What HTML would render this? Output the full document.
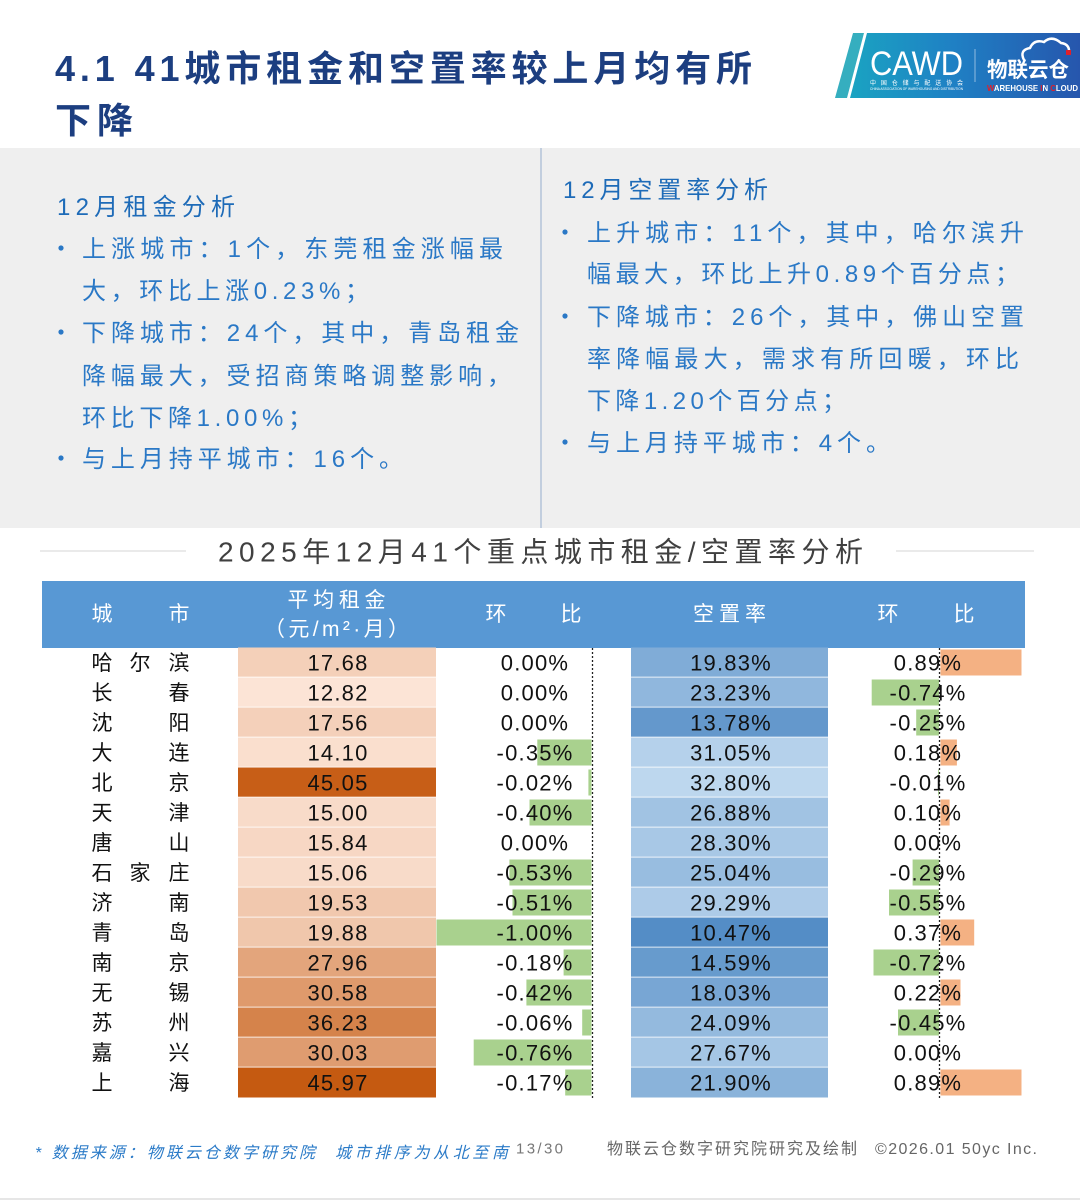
<!DOCTYPE html>
<html><head><meta charset="utf-8">
<style>
html,body{margin:0;padding:0;background:#fff;}
svg{display:block;font-family:"Liberation Sans","Noto Sans CJK SC",sans-serif;}
</style></head><body>
<svg width="1080" height="1200" viewBox="0 0 1080 1200" xmlns="http://www.w3.org/2000/svg">
<defs>
<linearGradient id="lg" x1="0" x2="1" y1="0" y2="0">
<stop offset="0" stop-color="#1aa3c2"/>
<stop offset="0.45" stop-color="#1f80c4"/>
<stop offset="1" stop-color="#2656ad"/>
</linearGradient>
</defs>
<rect x="0" y="0" width="1080" height="1200" fill="#fff"/>

<!-- Title -->
<text x="55" y="81" font-size="36" font-weight="bold" fill="#1c3e80" textLength="697" lengthAdjust="spacing">4.1 41城市租金和空置率较上月均有所</text>
<text x="55" y="133" font-size="36" font-weight="bold" fill="#1c3e80" textLength="78" lengthAdjust="spacing">下降</text>

<!-- Logo -->
<polygon points="853,33 864,33 847,98 835,98" fill="#35aebf"/>
<polygon points="867,33 1080,33 1080,98 850,98" fill="url(#lg)"/>
<text x="870" y="75" font-size="34" fill="#fff" textLength="93" lengthAdjust="spacingAndGlyphs">CAWD</text>
<text x="870" y="85" font-size="6" fill="#fff" textLength="93" lengthAdjust="spacing">中国仓储与配送协会</text>
<text x="870" y="90" font-size="3.5" fill="#fff" textLength="93" lengthAdjust="spacingAndGlyphs">CHINA ASSOCIATION OF WAREHOUSING AND DISTRIBUTION</text>
<line x1="975" y1="49" x2="975" y2="82" stroke="#fff" stroke-opacity="0.5" stroke-width="1"/>
<path d="M1024,60 q-5,-10 6,-12 q4,-9 14,-6 q8,-7 17,1 q9,1 8,10" fill="none" stroke="#fff" stroke-width="2.5"/>
<rect x="1066" y="50" width="5" height="5" fill="#e0202a"/>
<text x="987" y="77" font-size="21" font-weight="bold" fill="#fff" textLength="82" lengthAdjust="spacingAndGlyphs">物联云仓</text>
<text x="987" y="91" font-size="8.5" font-weight="bold" fill="#fff" textLength="91" lengthAdjust="spacingAndGlyphs"><tspan fill="#e0202a">W</tspan>AREHOUSE <tspan fill="#e0202a">I</tspan>N <tspan fill="#e0202a">C</tspan>LOUD</text>

<!-- Gray panel -->
<rect x="0" y="148" width="1080" height="380" fill="#efefef"/>
<line x1="541" y1="148" x2="541" y2="528" stroke="#b4c3d8" stroke-width="1.5"/>

<!-- Left panel -->
<text x="57" y="215" font-size="24" fill="#1e6bb8" textLength="178" lengthAdjust="spacing">12月租金分析</text>
<g font-size="24" fill="#2a78c6">
<circle cx="61" cy="248" r="2.6"/>
<text x="82" y="257" textLength="421" lengthAdjust="spacing">上涨城市：1个，东莞租金涨幅最</text>
<text x="82" y="299" textLength="287" lengthAdjust="spacing">大，环比上涨0.23%；</text>
<circle cx="61" cy="332" r="2.6"/>
<text x="82" y="341" textLength="437" lengthAdjust="spacing">下降城市：24个，其中，青岛租金</text>
<text x="82" y="384" textLength="429" lengthAdjust="spacing">降幅最大，受招商策略调整影响，</text>
<text x="82" y="426" textLength="230" lengthAdjust="spacing">环比下降1.00%；</text>
<circle cx="61" cy="458" r="2.6"/>
<text x="82" y="467" textLength="321" lengthAdjust="spacing">与上月持平城市：16个。</text>
</g>

<!-- Right panel -->
<text x="563" y="198" font-size="24" fill="#1e6bb8" textLength="205" lengthAdjust="spacing">12月空置率分析</text>
<g font-size="24" fill="#2a78c6">
<circle cx="565" cy="232" r="2.6"/>
<text x="587" y="241" textLength="437" lengthAdjust="spacing">上升城市：11个，其中，哈尔滨升</text>
<text x="587" y="282" textLength="432" lengthAdjust="spacing">幅最大，环比上升0.89个百分点；</text>
<circle cx="565" cy="316" r="2.6"/>
<text x="587" y="325" textLength="437" lengthAdjust="spacing">下降城市：26个，其中，佛山空置</text>
<text x="587" y="367" textLength="432" lengthAdjust="spacing">率降幅最大，需求有所回暖，环比</text>
<text x="587" y="409" textLength="259" lengthAdjust="spacing">下降1.20个百分点；</text>
<circle cx="565" cy="442" r="2.6"/>
<text x="587" y="451" textLength="303" lengthAdjust="spacing">与上月持平城市：4个。</text>
</g>

<!-- Table title -->
<line x1="40" y1="551" x2="186" y2="551" stroke="#e3e3e3" stroke-width="1.5"/>
<line x1="896" y1="551" x2="1034" y2="551" stroke="#e3e3e3" stroke-width="1.5"/>
<text x="218" y="561.5" font-size="28" fill="#404040" textLength="645" lengthAdjust="spacing">2025年12月41个重点城市租金/空置率分析</text>

<!-- Table header -->
<rect x="42" y="581" width="983" height="67" fill="#5898d4"/>
<g font-size="21" fill="#fff">
<text x="102" y="621" text-anchor="middle">城</text>
<text x="179" y="621" text-anchor="middle">市</text>
<text x="287.5" y="607" textLength="98" lengthAdjust="spacing">平均租金</text>
<text x="264" y="636" textLength="145" lengthAdjust="spacing">（元/m²·月）</text>
<text x="496" y="621" text-anchor="middle">环</text>
<text x="571" y="621" text-anchor="middle">比</text>
<text x="693" y="621" textLength="73" lengthAdjust="spacing">空置率</text>
<text x="888" y="621" text-anchor="middle">环</text>
<text x="964" y="621" text-anchor="middle">比</text>
</g>

<!-- Rent heat cells -->
<g>
<rect x="238" y="647.5" width="198" height="29.2" fill="#f4d0b9"/>
<rect x="238" y="677.5" width="198" height="29.2" fill="#fce4d6"/>
<rect x="238" y="707.5" width="198" height="29.2" fill="#f4d0ba"/>
<rect x="238" y="737.5" width="198" height="29.2" fill="#fadfce"/>
<rect x="238" y="767.5" width="198" height="29.2" fill="#c75e17"/>
<rect x="238" y="797.5" width="198" height="29.2" fill="#f8dbc9"/>
<rect x="238" y="827.5" width="198" height="29.2" fill="#f7d7c4"/>
<rect x="238" y="857.5" width="198" height="29.2" fill="#f8dbc9"/>
<rect x="238" y="887.5" width="198" height="29.2" fill="#f1c8ae"/>
<rect x="238" y="917.5" width="198" height="29.2" fill="#f0c7ac"/>
<rect x="238" y="947.5" width="198" height="29.2" fill="#e3a57c"/>
<rect x="238" y="977.5" width="198" height="29.2" fill="#df9a6c"/>
<rect x="238" y="1007.5" width="198" height="29.2" fill="#d5834b"/>
<rect x="238" y="1037.5" width="198" height="29.2" fill="#df9c70"/>
<rect x="238" y="1067.5" width="198" height="30" fill="#c55a11"/>
</g>

<!-- Vacancy heat cells -->
<g>
<rect x="631" y="647.5" width="197" height="29.2" fill="#80acd7"/>
<rect x="631" y="677.5" width="197" height="29.2" fill="#90b7dd"/>
<rect x="631" y="707.5" width="197" height="29.2" fill="#6498cc"/>
<rect x="631" y="737.5" width="197" height="29.2" fill="#b5d1eb"/>
<rect x="631" y="767.5" width="197" height="29.2" fill="#bdd7ee"/>
<rect x="631" y="797.5" width="197" height="29.2" fill="#a1c3e3"/>
<rect x="631" y="827.5" width="197" height="29.2" fill="#a8c8e6"/>
<rect x="631" y="857.5" width="197" height="29.2" fill="#98bde0"/>
<rect x="631" y="887.5" width="197" height="29.2" fill="#adcbe8"/>
<rect x="631" y="917.5" width="197" height="29.2" fill="#548dc6"/>
<rect x="631" y="947.5" width="197" height="29.2" fill="#679bcd"/>
<rect x="631" y="977.5" width="197" height="29.2" fill="#78a6d4"/>
<rect x="631" y="1007.5" width="197" height="29.2" fill="#94bade"/>
<rect x="631" y="1037.5" width="197" height="29.2" fill="#a5c6e5"/>
<rect x="631" y="1067.5" width="197" height="30" fill="#8ab3da"/>
</g>

<!-- Rent change bars -->
<g fill="#a9d18e">
<rect x="537.3" y="739.5" width="54.2" height="26"/>
<rect x="588.4" y="769.5" width="3.1" height="26"/>
<rect x="529.5" y="799.5" width="62" height="26"/>
<rect x="509.4" y="859.5" width="82.1" height="26"/>
<rect x="512.5" y="889.5" width="79" height="26"/>
<rect x="436.5" y="919.5" width="155" height="26"/>
<rect x="563.6" y="949.5" width="27.9" height="26"/>
<rect x="526.4" y="979.5" width="65.1" height="26"/>
<rect x="582.2" y="1009.5" width="9.3" height="26"/>
<rect x="473.7" y="1039.5" width="117.8" height="26"/>
<rect x="565.2" y="1069.5" width="26.3" height="26"/>
</g>

<!-- Vacancy change bars -->
<g fill="#f4b183">
<rect x="940.5" y="649.5" width="81" height="26"/>
<rect x="940.5" y="739.5" width="16.4" height="26"/>
<rect x="940.5" y="799.5" width="9.1" height="26"/>
<rect x="940.5" y="919.5" width="33.7" height="26"/>
<rect x="940.5" y="979.5" width="20" height="26"/>
<rect x="940.5" y="1069.5" width="81" height="26"/>
</g>
<g fill="#a9d18e">
<rect x="871.7" y="679.5" width="67.3" height="26"/>
<rect x="916.2" y="709.5" width="22.8" height="26"/>
<rect x="938.1" y="769.5" width="0.9" height="26"/>
<rect x="912.6" y="859.5" width="26.4" height="26"/>
<rect x="889" y="889.5" width="50" height="26"/>
<rect x="873.5" y="949.5" width="65.5" height="26"/>
<rect x="898" y="1009.5" width="41" height="26"/>
</g>

<!-- Axes -->
<line x1="592.5" y1="648" x2="592.5" y2="1098" stroke="#222" stroke-width="1.3" stroke-dasharray="2 2"/>
<line x1="939.5" y1="648" x2="939.5" y2="1098" stroke="#222" stroke-width="1.3" stroke-dasharray="2 2"/>

<!-- City names -->
<g font-size="21" fill="#111" text-anchor="middle">
<text x="102" y="670">哈</text><text x="140" y="670">尔</text><text x="179" y="670">滨</text>
<text x="102" y="700">长</text><text x="179" y="700">春</text>
<text x="102" y="730">沈</text><text x="179" y="730">阳</text>
<text x="102" y="760">大</text><text x="179" y="760">连</text>
<text x="102" y="790">北</text><text x="179" y="790">京</text>
<text x="102" y="820">天</text><text x="179" y="820">津</text>
<text x="102" y="850">唐</text><text x="179" y="850">山</text>
<text x="102" y="880">石</text><text x="140" y="880">家</text><text x="179" y="880">庄</text>
<text x="102" y="910">济</text><text x="179" y="910">南</text>
<text x="102" y="940">青</text><text x="179" y="940">岛</text>
<text x="102" y="970">南</text><text x="179" y="970">京</text>
<text x="102" y="1000">无</text><text x="179" y="1000">锡</text>
<text x="102" y="1030">苏</text><text x="179" y="1030">州</text>
<text x="102" y="1060">嘉</text><text x="179" y="1060">兴</text>
<text x="102" y="1090">上</text><text x="179" y="1090">海</text>
</g>

<!-- Rent values -->
<g font-size="22" fill="#111" text-anchor="middle" letter-spacing="1.2">
<text x="338" y="670.5">17.68</text>
<text x="338" y="700.5">12.82</text>
<text x="338" y="730.5">17.56</text>
<text x="338" y="760.5">14.10</text>
<text x="338" y="790.5">45.05</text>
<text x="338" y="820.5">15.00</text>
<text x="338" y="850.5">15.84</text>
<text x="338" y="880.5">15.06</text>
<text x="338" y="910.5">19.53</text>
<text x="338" y="940.5">19.88</text>
<text x="338" y="970.5">27.96</text>
<text x="338" y="1000.5">30.58</text>
<text x="338" y="1030.5">36.23</text>
<text x="338" y="1060.5">30.03</text>
<text x="338" y="1090.5">45.97</text>
</g>

<!-- Rent change values -->
<g font-size="22" fill="#111" text-anchor="middle" letter-spacing="1.2">
<text x="535" y="670.5">0.00%</text>
<text x="535" y="700.5">0.00%</text>
<text x="535" y="730.5">0.00%</text>
<text x="535" y="760.5">-0.35%</text>
<text x="535" y="790.5">-0.02%</text>
<text x="535" y="820.5">-0.40%</text>
<text x="535" y="850.5">0.00%</text>
<text x="535" y="880.5">-0.53%</text>
<text x="535" y="910.5">-0.51%</text>
<text x="535" y="940.5">-1.00%</text>
<text x="535" y="970.5">-0.18%</text>
<text x="535" y="1000.5">-0.42%</text>
<text x="535" y="1030.5">-0.06%</text>
<text x="535" y="1060.5">-0.76%</text>
<text x="535" y="1090.5">-0.17%</text>
</g>

<!-- Vacancy values -->
<g font-size="22" fill="#111" text-anchor="middle" letter-spacing="1.2">
<text x="731" y="670.5">19.83%</text>
<text x="731" y="700.5">23.23%</text>
<text x="731" y="730.5">13.78%</text>
<text x="731" y="760.5">31.05%</text>
<text x="731" y="790.5">32.80%</text>
<text x="731" y="820.5">26.88%</text>
<text x="731" y="850.5">28.30%</text>
<text x="731" y="880.5">25.04%</text>
<text x="731" y="910.5">29.29%</text>
<text x="731" y="940.5">10.47%</text>
<text x="731" y="970.5">14.59%</text>
<text x="731" y="1000.5">18.03%</text>
<text x="731" y="1030.5">24.09%</text>
<text x="731" y="1060.5">27.67%</text>
<text x="731" y="1090.5">21.90%</text>
</g>

<!-- Vacancy change values -->
<g font-size="22" fill="#111" text-anchor="middle" letter-spacing="1.2">
<text x="928" y="670.5">0.89%</text>
<text x="928" y="700.5">-0.74%</text>
<text x="928" y="730.5">-0.25%</text>
<text x="928" y="760.5">0.18%</text>
<text x="928" y="790.5">-0.01%</text>
<text x="928" y="820.5">0.10%</text>
<text x="928" y="850.5">0.00%</text>
<text x="928" y="880.5">-0.29%</text>
<text x="928" y="910.5">-0.55%</text>
<text x="928" y="940.5">0.37%</text>
<text x="928" y="970.5">-0.72%</text>
<text x="928" y="1000.5">0.22%</text>
<text x="928" y="1030.5">-0.45%</text>
<text x="928" y="1060.5">0.00%</text>
<text x="928" y="1090.5">0.89%</text>
</g>

<!-- Footer -->
<g font-size="16" font-style="italic" fill="#2b7bc8">
<text x="35" y="1158" textLength="280" lengthAdjust="spacing">* 数据来源：物联云仓数字研究院</text>
<text x="335" y="1158" textLength="173" lengthAdjust="spacing">城市排序为从北至南</text>
</g>
<text x="516" y="1153.5" font-size="15" fill="#777" textLength="47" lengthAdjust="spacing">13/30</text>
<text x="607" y="1154" font-size="16" fill="#666" textLength="250" lengthAdjust="spacing">物联云仓数字研究院研究及绘制</text>
<text x="875" y="1154" font-size="16" fill="#666" textLength="162" lengthAdjust="spacing">©2026.01 50yc Inc.</text>
<line x1="0" y1="1199" x2="1080" y2="1199" stroke="#dddddd" stroke-width="1.5"/>
</svg>
</body></html>
